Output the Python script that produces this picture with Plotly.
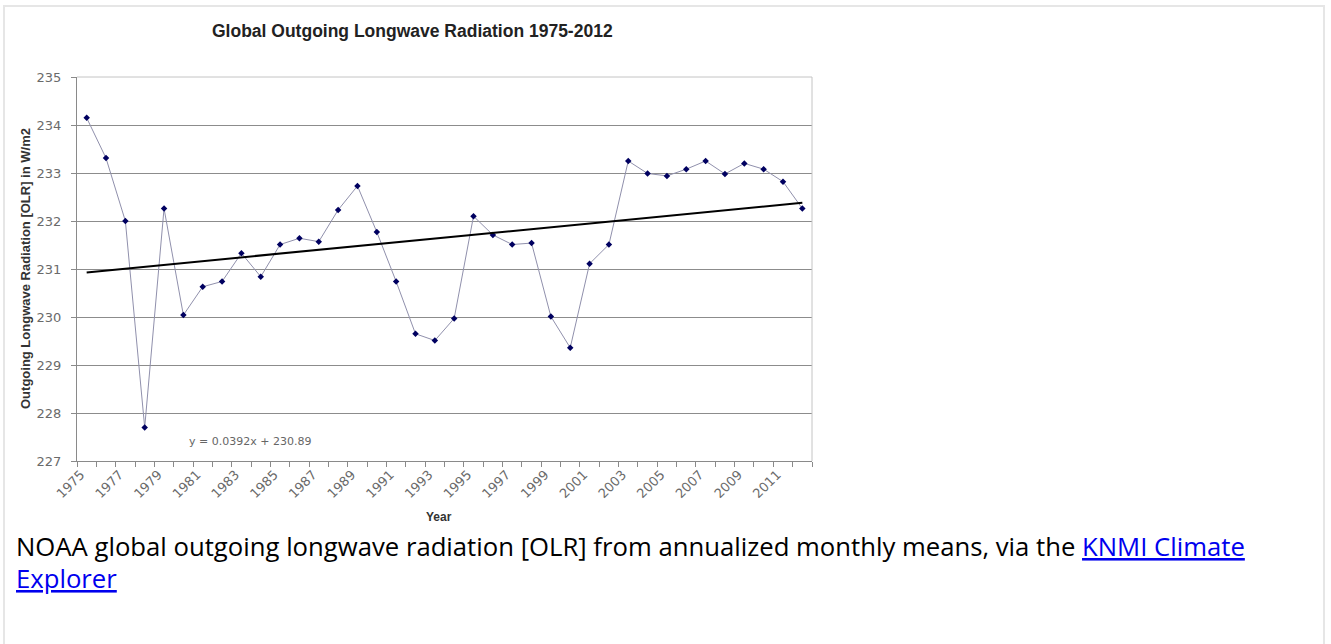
import plotly.graph_objects as go

# Annual global mean OLR (W/m2), 1975-2012
years = list(range(1975, 2013))
olr = [234.15, 233.31, 232.00, 227.70, 232.26, 230.04, 230.63, 230.74, 231.33, 230.84,
       231.51, 231.64, 231.57, 232.23, 232.73, 231.77, 230.74, 229.65, 229.51, 229.97,
       232.10, 231.71, 231.51, 231.54, 230.01, 229.36, 231.11, 231.51, 233.25, 232.99,
       232.94, 233.08, 233.25, 232.98, 233.20, 233.08, 232.82, 232.26]

# Linear trend as stated on the chart (x = 1, 2, ... per year)
trend_slope = 0.0392
trend_intercept = 230.89
trend = [trend_slope * (i + 1) + trend_intercept for i in range(len(years))]

y_ticks = list(range(227, 236))
x_label_years = years[::2]

title_text = "Global Outgoing Longwave Radiation 1975-2012"
y_title = "Outgoing Longwave Radiation [OLR] in W/m2"
x_title = "Year"
equation_text = f"y = {trend_slope}x + {trend_intercept}"
link = "<a href='https://climexp.knmi.nl/'><span style='color:#0000EE;text-decoration:underline'>{}</span></a>"
caption_1 = ("NOAA global outgoing longwave radiation [OLR] from annualized monthly means, via the "
             + link.format("KNMI Climate"))
caption_2 = link.format("Explorer")

W, H = 1331, 644
L, R, T, B = 77, 812, 77, 461  # plot area edges in pixels


def px(x):
    return (x - L) / (R - L)


def py(y):
    return (B - y) / (B - T)


fig = go.Figure()

fig.add_trace(go.Scatter(
    x=years, y=olr, mode="lines+markers",
    line=dict(color="#9090ac", width=1),
    marker=dict(symbol="diamond", size=5, color="#000060"),
    showlegend=False, hoverinfo="x+y",
))
fig.add_trace(go.Scatter(
    x=years, y=trend, mode="lines",
    line=dict(color="#000000", width=2),
    showlegend=False, hoverinfo="skip",
))

label_shift = 0.3
fig.update_xaxes(
    range=[years[0] - 0.5, years[-1] + 0.5],
    tickmode="array",
    tickvals=[y - label_shift for y in x_label_years],
    ticktext=[str(y) for y in x_label_years],
    tickangle=-45,
    tickfont=dict(family="DejaVu Sans", size=13, color="#6a6a6a"),
    ticks="outside", ticklen=0,
    minor=dict(tickmode="array", tickvals=[y - 0.5 for y in years] + [years[-1] + 0.5],
               ticks="outside", ticklen=5, tickcolor="#8a8a8a", showgrid=False),
    showline=True, linecolor="#8a8a8a", linewidth=1,
    showgrid=False, zeroline=False,
)
fig.update_yaxes(
    range=[y_ticks[0], y_ticks[-1]],
    tickmode="array", tickvals=y_ticks, ticktext=[str(v) for v in y_ticks],
    tickfont=dict(family="DejaVu Sans", size=13, color="#6a6a6a"),
    ticks="outside", ticklen=5, tickcolor="#8a8a8a", ticklabelstandoff=7,
    showline=True, linecolor="#8a8a8a", linewidth=1,
    showgrid=True, gridcolor="#8c8c8c", gridwidth=1, zeroline=False,
)

shapes = [
    # page frame
    dict(type="rect", xref="paper", yref="paper",
         x0=px(4), x1=px(1324), y0=py(660), y1=py(6),
         line=dict(color="#e6e6e6", width=2), fillcolor="rgba(0,0,0,0)", layer="below"),
    # plot area border (top and right)
    dict(type="line", xref="paper", yref="paper", x0=0, x1=1, y0=1, y1=1,
         line=dict(color="#c4c4c4", width=1), layer="above"),
    dict(type="line", xref="paper", yref="paper", x0=1, x1=1, y0=0, y1=1,
         line=dict(color="#c4c4c4", width=1), layer="above"),
]

annotations = [
    dict(text=f"<b>{title_text}</b>", xref="paper", yref="paper", x=px(412), y=py(31),
         xanchor="center", yanchor="middle", showarrow=False,
         font=dict(family="Liberation Sans", size=17.5, color="#222222")),
    dict(text=f"<b>{y_title}</b>", xref="paper", yref="paper", x=px(25), y=0.5,
         xanchor="center", yanchor="middle", textangle=-90, showarrow=False,
         font=dict(family="Liberation Sans", size=13, color="#333333")),
    dict(text=f"<b>{x_title}</b>", xref="paper", yref="paper", x=px(439), y=py(517),
         xanchor="center", yanchor="middle", showarrow=False,
         font=dict(family="Liberation Sans", size=12, color="#333333")),
    dict(text=equation_text, xref="paper", yref="paper", x=px(250), y=py(441),
         xanchor="center", yanchor="middle", showarrow=False,
         font=dict(family="DejaVu Sans", size=11, color="#666666")),
    dict(text=caption_1, xref="paper", yref="paper", x=px(14), y=py(546),
         xanchor="left", yanchor="middle", showarrow=False,
         font=dict(family="Open Sans", size=25.7, color="#000000")),
    dict(text=caption_2, xref="paper", yref="paper", x=px(14), y=py(578),
         xanchor="left", yanchor="middle", showarrow=False,
         font=dict(family="Open Sans", size=25.7, color="#000000")),
]

fig.update_layout(
    width=W, height=H,
    margin=dict(l=L, r=W - R, t=T, b=H - B, pad=0),
    paper_bgcolor="#ffffff", plot_bgcolor="#ffffff",
    shapes=shapes, annotations=annotations,
    showlegend=False,
)

fig.write_html("out.html")
